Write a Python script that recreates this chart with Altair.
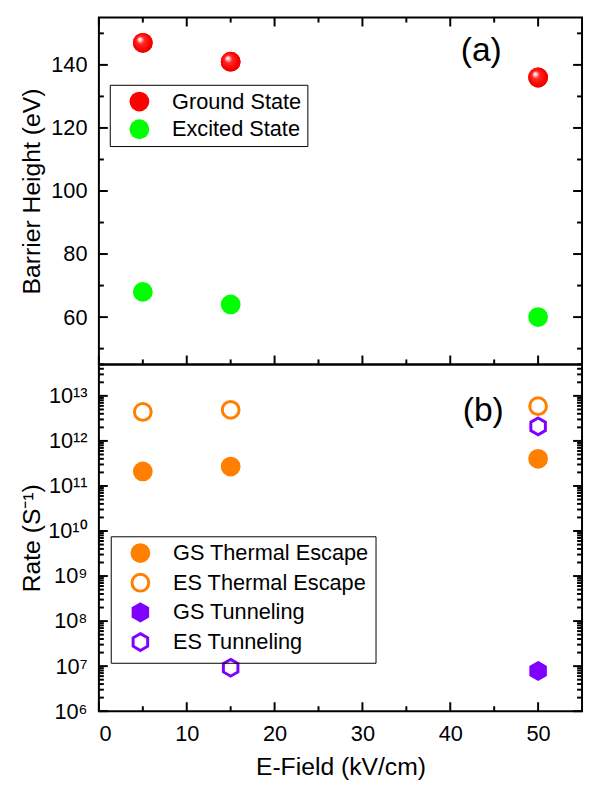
import altair as alt
import pandas as pd

# ---------------- data ----------------
x_field = [5, 15, 50]
gs_barrier = [147, 141, 136]
es_barrier = [68, 64, 60]
state_names = ["Ground State", "Excited State"]
state_colors = ["#FF0000", "#00FF00"]

gs_thermal = [2.1e11, 2.7e11, 4.0e11]
es_thermal = [4.4e12, 4.9e12, 5.9e12]
gs_tunnel_x = [50]
gs_tunnel = [7.8e6]
es_tunnel_x = [15, 50]
es_tunnel = [9.2e6, 2.1e12]
rate_names = ["GS Thermal Escape", "ES Thermal Escape", "GS Tunneling", "ES Tunneling"]
rate_stroke = ["#FF7F00", "#FF7F00", "#7F00FF", "#7F00FF"]
rate_fill = ["#FF7F00", "#FFFFFF", "#7F00FF", "#FFFFFF"]
HEX = "M0,-1L0.866,-0.5L0.866,0.5L0,1L-0.866,0.5L-0.866,-0.5Z"
rate_shape = ["circle", "circle", HEX, HEX]

x_major = [0, 10, 20, 30, 40, 50]
x_minor = [5, 15, 25, 35, 45]
a_major = [60, 80, 100, 120, 140]
a_minor = [50, 70, 90, 110, 130, 150]
b_exps = [6, 7, 8, 9, 10, 11, 12, 13]
b_major = [10.0 ** e for e in b_exps]
b_labels = ["10\u2076", "10\u2077", "10\u2078", "10\u2079",
            "10\u00b9\u2070", "10\u00b9\u00b9", "10\u00b9\u00b2", "10\u00b9\u00b3"]
b_minor = [m * 10.0 ** e for e in b_exps for m in range(2, 10) if m * 10.0 ** e <= 5e13]
panel_labels = ["(a)", "(b)"]

W, H = 489, 351
FONT = "Liberation Sans"
MAJ, MIN = 9, 5

xscale = alt.Scale(domain=[0, 55], nice=False)
ascale = alt.Scale(domain=[45, 155], nice=False)
bscale = alt.Scale(type="log", domain=[1e6, 5e13], nice=False)

a_axis = alt.Axis(values=a_major, ticks=False, domain=False, grid=False, tickSize=0,
                  labelFontSize=22, labelPadding=12, labelColor="black", labelFont=FONT,
                  title="Barrier Height (eV)", titleFontSize=25, titleFontWeight="normal",
                  titleColor="black", titleFont=FONT, titleX=-68, titleY=H / 2,
                  titleAngle=270, titleBaseline="middle", titleAlign="center")

expr = "''"
for e, lab in reversed(list(zip(b_exps, b_labels))):
    expr = f"abs(log(datum.value)/LN10 - {e}) < 0.01 ? '{lab}' : (" + expr + ")"

b_axis = alt.Axis(values=b_major, labelExpr=expr, ticks=False, domain=False, grid=False,
                  tickSize=0, labelFontSize=22, labelPadding=12, labelColor="black",
                  labelFont=FONT, title="Rate (S\u207b\u00b9)", titleFontSize=25,
                  titleFontWeight="normal", titleColor="black", titleFont=FONT,
                  titleX=-68, titleY=H / 2, titleAngle=270, titleBaseline="middle",
                  titleAlign="center")

x_axis = alt.Axis(values=x_major, ticks=False, domain=False, grid=False, tickSize=0,
                  labelFontSize=22, labelPadding=13, labelColor="black", labelFont=FONT,
                  title="E-Field (kV/cm)", titleFontSize=25, titleFontWeight="normal",
                  titleColor="black", titleFont=FONT, titleY=56, titleX=W / 2,
                  titleBaseline="middle", titleAlign="center")


def yticks(vals, scale, length):
    df = pd.DataFrame({"v": vals})
    left = alt.Chart(df).mark_rule(color="black", strokeWidth=2).encode(
        y=alt.Y("v:Q", scale=scale, axis=None), x=alt.value(0), x2=alt.value(length))
    right = alt.Chart(df).mark_rule(color="black", strokeWidth=2).encode(
        y=alt.Y("v:Q", scale=scale, axis=None), x=alt.value(W), x2=alt.value(W - length))
    return [left, right]


def xticks(vals, length, top=True, bottom=True):
    df = pd.DataFrame({"v": vals})
    out = []
    if top:
        out.append(alt.Chart(df).mark_rule(color="black", strokeWidth=2).encode(
            x=alt.X("v:Q", scale=xscale, axis=None), y=alt.value(0), y2=alt.value(length)))
    if bottom:
        out.append(alt.Chart(df).mark_rule(color="black", strokeWidth=2).encode(
            x=alt.X("v:Q", scale=xscale, axis=None), y=alt.value(H), y2=alt.value(H - length)))
    return out


legend_common = dict(orient="none", title=None, direction="vertical",
                     labelFontSize=22, labelFont=FONT, labelColor="black", labelLimit=400,
                     strokeColor="black", padding=6,
                     symbolOffset=13, labelOffset=22, symbolOpacity=1)

# ---------------- panel (a) ----------------
top_df = pd.DataFrame({
    "E": x_field * 2,
    "Hgt": gs_barrier + es_barrier,
    "state": [state_names[0]] * len(x_field) + [state_names[1]] * len(x_field),
})

a_points = alt.Chart(top_df).mark_point(filled=True, shape="circle", size=400, opacity=1).encode(
    x=alt.X("E:Q", scale=xscale, axis=None),
    y=alt.Y("Hgt:Q", scale=ascale, axis=a_axis),
    color=alt.Color("state:N", scale=alt.Scale(domain=state_names, range=state_colors),
                    legend=alt.Legend(legendX=11, legendY=68, symbolSize=400, rowPadding=6,
                                      symbolType="circle", **legend_common)),
)

sphere = alt.RadialGradient(
    gradient="radial", x1=0.33, y1=0.3, r1=0, x2=0.5, y2=0.5, r2=0.55,
    stops=[alt.GradientStop(offset=0, color="#FFFFFF"),
           alt.GradientStop(offset=0.12, color="#FFD8D8"),
           alt.GradientStop(offset=0.35, color="#FF2A2A"),
           alt.GradientStop(offset=0.75, color="#FF0000"),
           alt.GradientStop(offset=1, color="#E00000")])

a_sphere = alt.Chart(top_df).transform_filter(
    alt.datum.state == state_names[0]
).mark_point(filled=True, shape="circle", size=400, opacity=1, fill=sphere, strokeWidth=0).encode(
    x=alt.X("E:Q", scale=xscale, axis=None),
    y=alt.Y("Hgt:Q", scale=ascale, axis=None),
)

a_label = alt.Chart(pd.DataFrame({"t": [panel_labels[0]]})).mark_text(
    fontSize=34, font=FONT, color="black").encode(
    text="t:N", x=alt.value(387), y=alt.value(34))

top = alt.layer(
    a_points, a_sphere, a_label,
    *yticks(a_major, ascale, MAJ), *yticks(a_minor, ascale, MIN),
    *xticks(x_major, MAJ), *xticks(x_minor, MIN),
).resolve_axis(x="independent", y="independent").properties(width=W, height=H)

# ---------------- panel (b) ----------------
rate_df = pd.DataFrame({
    "E": x_field + x_field + gs_tunnel_x + es_tunnel_x,
    "R": gs_thermal + es_thermal + gs_tunnel + es_tunnel,
    "series": [rate_names[0]] * 3 + [rate_names[1]] * 3
              + [rate_names[2]] * len(gs_tunnel_x) + [rate_names[3]] * len(es_tunnel_x),
})

b_leg = alt.Legend(legendX=12, legendY=174, symbolSize=289, symbolStrokeWidth=3,
                   rowPadding=0, **legend_common)

b_points = alt.Chart(rate_df).mark_point(size=289, strokeWidth=3, opacity=1).encode(
    x=alt.X("E:Q", scale=xscale, axis=x_axis),
    y=alt.Y("R:Q", scale=bscale, axis=b_axis),
    fill=alt.Fill("series:N", scale=alt.Scale(domain=rate_names, range=rate_fill), legend=b_leg),
    stroke=alt.Stroke("series:N", scale=alt.Scale(domain=rate_names, range=rate_stroke), legend=b_leg),
    shape=alt.Shape("series:N", scale=alt.Scale(domain=rate_names, range=rate_shape), legend=b_leg),
)

b_label = alt.Chart(pd.DataFrame({"t": [panel_labels[1]]})).mark_text(
    fontSize=34, font=FONT, color="black").encode(
    text="t:N", x=alt.value(389), y=alt.value(47))

bottom = alt.layer(
    b_points, b_label,
    *yticks(b_major, bscale, MAJ), *yticks(b_minor, bscale, MIN),
    *xticks(x_major, MAJ, top=False), *xticks(x_minor, MIN, top=False),
).resolve_axis(x="independent", y="independent").properties(width=W, height=H)

chart = alt.vconcat(top, bottom, spacing=0, bounds="flush").resolve_scale(
    color="independent", fill="independent", stroke="independent", shape="independent"
).properties(
    padding={"left": 11, "top": 3, "right": 0, "bottom": 0}
).configure(font=FONT).configure_view(stroke="black", strokeWidth=2)

chart.save("out.html", embed_options={"renderer": "svg", "actions": False})
